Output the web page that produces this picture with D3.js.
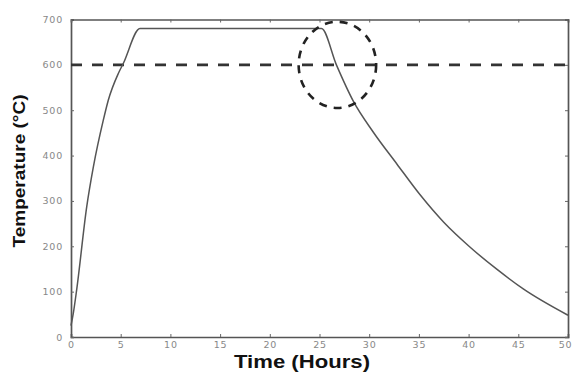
<!DOCTYPE html>
<html>
<head>
<meta charset="utf-8">
<script src="https://cdn.jsdelivr.net/npm/d3@7"></script>
<style>
  body { margin: 0; background: #fff; }
  .tick text { font-family: "DejaVu Sans", sans-serif; font-size: 9.5px; fill: #888; letter-spacing: 0.8px; }
  .axisText { font-family: "Liberation Sans", Arial, sans-serif; font-weight: bold; fill: #111; }
</style>
</head>
<body>
<div class="chart"></div>
<script>
// Data
var timeHours = [0, 0.23, 0.57, 1.58, 2.25, 3.25, 3.75, 4.76, 5.26, 6.94,
                 25.2, 26.7, 28.4, 30.4, 32.8, 35.1, 37.5, 40.1, 42.8, 45.5, 50];
var tempC = [25, 52, 104, 287, 375, 478, 522, 581, 603, 680,
             680, 600, 520, 452, 381, 314, 253, 199, 150, 106, 48];
var limitTemp = [600];
var markCenter = [26.8, 600];
var markRadius = [3.9, 95];
var xTicks = [0, 5, 10, 15, 20, 25, 30, 35, 40, 45, 50];
var yTicks = [0, 100, 200, 300, 400, 500, 600, 700];

var svgWidth = 573;
var svgHeight = 372;

var margin = { top: 19.5, right: 5, bottom: 35, left: 71 };
var width = svgWidth - margin.left - margin.right;
var height = svgHeight - margin.top - margin.bottom;

var svg = d3.select(".chart")
  .append("svg")
  .attr("width", svgWidth)
  .attr("height", svgHeight);

var chartGroup = svg.append("g")
  .attr("transform", `translate(${margin.left}, ${margin.top})`);

var x = d3.scaleLinear().domain([0, 50]).range([0, width]);
var y = d3.scaleLinear().domain([0, 700]).range([height, 0]);

// axes, MATLAB style inward ticks
var bottomAxis = d3.axisBottom(x).tickValues(xTicks).tickSize(-3).tickPadding(4);
var leftAxis = d3.axisLeft(y).tickValues(yTicks).tickSize(-3).tickPadding(8);
var topAxis = d3.axisTop(x).tickValues(xTicks).tickSize(-3).tickFormat("");
var rightAxis = d3.axisRight(y).tickValues(yTicks).tickSize(-3).tickFormat("");

var xAxisG = chartGroup.append("g").attr("transform", `translate(0, ${height})`).call(bottomAxis);
chartGroup.append("g").call(leftAxis);
chartGroup.append("g").call(topAxis);
chartGroup.append("g").attr("transform", `translate(${width}, 0)`).call(rightAxis);

// keep the last label inside the page
xAxisG.selectAll(".tick text").filter(d => d === 50).attr("dx", -3);

chartGroup.selectAll(".domain").attr("stroke", "#555").attr("stroke-width", 1.7);
chartGroup.selectAll(".tick line").attr("stroke", "#666");

// limit line
chartGroup.append("line")
  .attr("x1", x(0)).attr("x2", x(50))
  .attr("y1", y(limitTemp[0])).attr("y2", y(limitTemp[0]))
  .attr("stroke", "#333")
  .attr("stroke-width", 2.6)
  .attr("stroke-dasharray", "11,10");

// temperature curve
var pts = timeHours.map((t, i) => [t, tempC[i]]);
var line = d3.line()
  .x(d => x(d[0]))
  .y(d => y(d[1]))
  .curve(d3.curveMonotoneX);

chartGroup.append("path")
  .datum(pts)
  .attr("d", line)
  .attr("fill", "none")
  .attr("stroke", "#555")
  .attr("stroke-width", 1.5);

// dashed circle mark
chartGroup.append("ellipse")
  .attr("cx", x(markCenter[0]))
  .attr("cy", y(markCenter[1]))
  .attr("rx", x(markRadius[0]) - x(0))
  .attr("ry", y(0) - y(markRadius[1]))
  .attr("fill", "none")
  .attr("stroke", "#222")
  .attr("stroke-width", 2.6)
  .attr("stroke-dasharray", "8,7");

// axis labels
chartGroup.append("text")
  .attr("class", "axisText")
  .attr("transform", "rotate(-90)")
  .attr("x", -(171 - margin.top))
  .attr("y", 25 - margin.left)
  .attr("text-anchor", "middle")
  .attr("font-size", "16px")
  .attr("textLength", 153)
  .attr("lengthAdjust", "spacingAndGlyphs")
  .text("Temperature (°C)");

chartGroup.append("text")
  .attr("class", "axisText")
  .attr("x", 302 - margin.left)
  .attr("y", 368 - margin.top)
  .attr("text-anchor", "middle")
  .attr("font-size", "18px")
  .attr("textLength", 136)
  .attr("lengthAdjust", "spacingAndGlyphs")
  .text("Time (Hours)");
</script>
</body>
</html>
